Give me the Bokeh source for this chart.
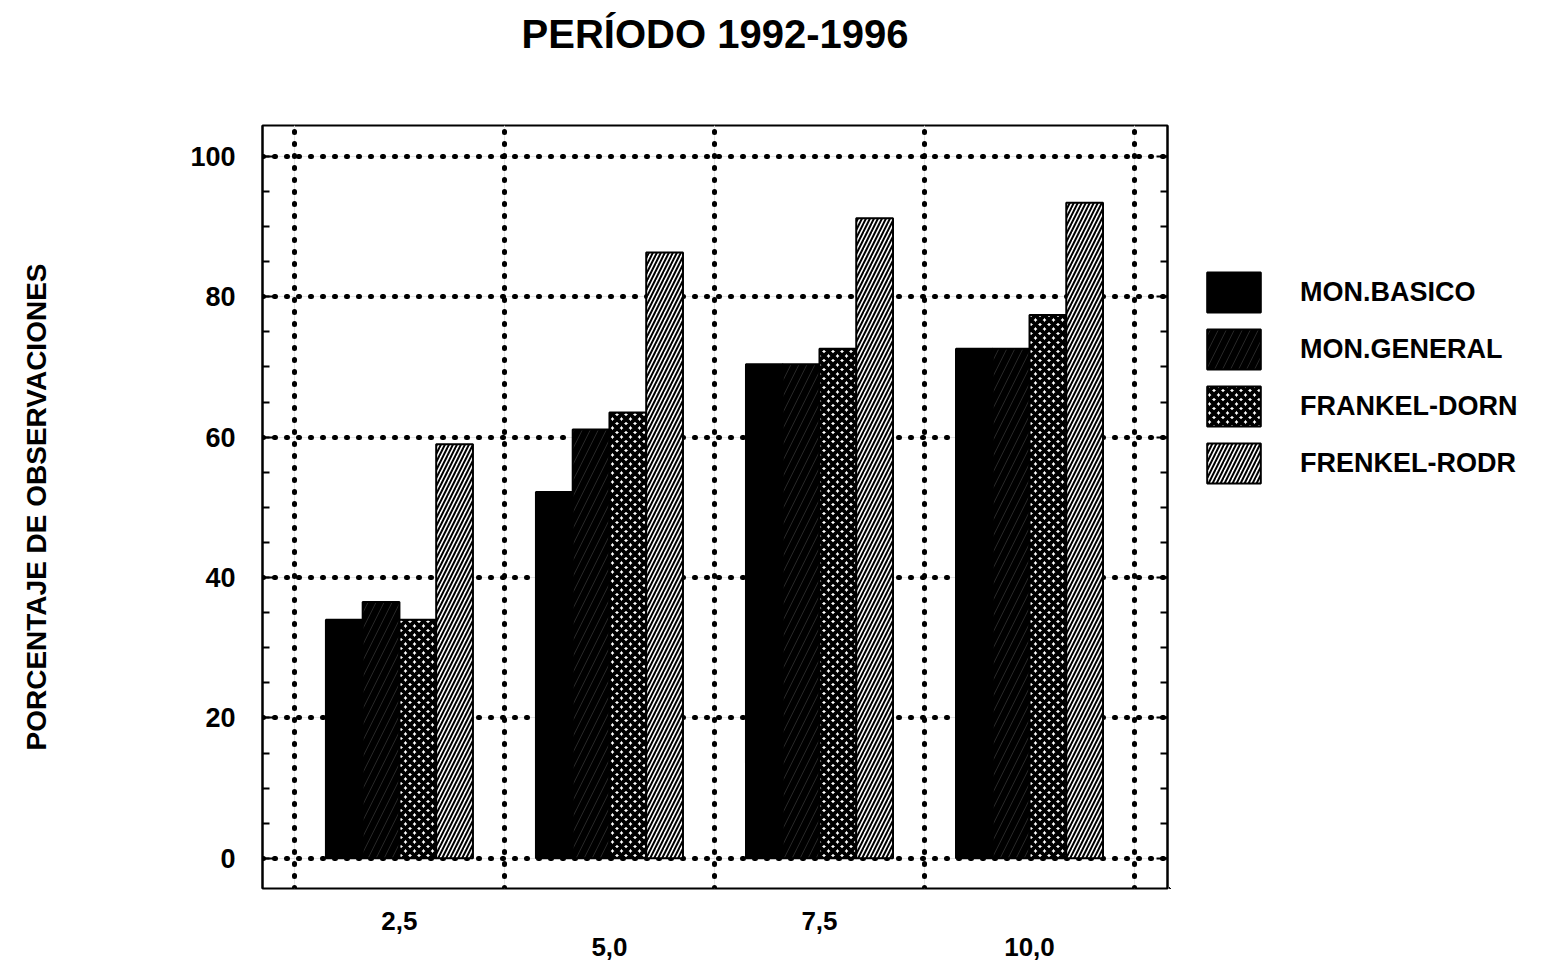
from bokeh.plotting import figure
from bokeh.layouts import row
from bokeh.models import (LinearAxis, FixedTicker, SingleIntervalTicker, Grid, Legend,
                          LegendItem, Range1d, ColumnDataSource, Title)
from bokeh.embed import file_html
from bokeh.resources import INLINE

# ---- data ----
categories = ["2,5", "5,0", "7,5", "10,0"]
series_names = ["MON.BASICO", "MON.GENERAL", "FRANKEL-DORN", "FRENKEL-RODR"]
mon_basico = [34.0, 52.2, 70.4, 72.6]
mon_general = [36.5, 61.1, 70.4, 72.6]
frankel_dorn = [34.0, 63.5, 72.6, 77.4]
frenkel_rodr = [59.0, 86.3, 91.2, 93.4]
y_ticks = [0, 20, 40, 60, 80, 100]

series_values = [mon_basico, mon_general, frankel_dorn, frenkel_rodr]

FONT = "Liberation Sans"
Y0, Y1 = -4.3, 104.4
H = 968

p = figure(width=1169, height=H,
           x_range=Range1d(-0.152, 4.157), y_range=Range1d(Y0, Y1),
           output_backend="svg", toolbar_location=None,
           x_axis_location=None, y_axis_location=None,
           min_border_left=262, min_border_right=2,
           min_border_top=125, min_border_bottom=80)

p.background_fill_color = "white"
p.border_fill_color = "white"
p.outline_line_color = "black"
p.outline_line_width = 2
p.outline_line_alpha = 1

# spacer title (next to frame) then the real title above it
p.add_layout(Title(text=" ", text_font_size="45px"), "above")
p.add_layout(Title(text="PERÍODO 1992-1996", align="center", vertical_align="top",
                   text_font=FONT, text_font_style="bold", text_font_size="40px",
                   text_color="black"), "above")

# grids
grid_kw = dict(grid_line_color="black", grid_line_width=5, grid_line_dash="1 11",
               grid_line_cap="round")
p.add_layout(Grid(dimension=0, ticker=FixedTicker(ticks=[0, 1, 2, 3, 4]), **grid_kw))
p.add_layout(Grid(dimension=1, ticker=FixedTicker(ticks=y_ticks), **grid_kw))

# y axes
def make_yaxis(show_labels):
    ax = LinearAxis(ticker=SingleIntervalTicker(interval=20, num_minor_ticks=4))
    ax.axis_line_color = "black"
    ax.axis_line_width = 2
    ax.major_tick_in = 11
    ax.major_tick_out = 0
    ax.minor_tick_in = 7
    ax.minor_tick_out = 0
    ax.major_tick_line_width = 2
    ax.minor_tick_line_width = 2
    ax.major_tick_line_color = "black"
    ax.minor_tick_line_color = "black"
    if show_labels:
        ax.major_label_text_font = FONT
        ax.major_label_text_font_style = "bold"
        ax.major_label_text_font_size = "27px"
        ax.major_label_text_color = "black"
        ax.major_label_standoff = 27
        ax.axis_label = "PORCENTAJE DE OBSERVACIONES"
        ax.axis_label_text_font = FONT
        ax.axis_label_text_font_style = "bold"
        ax.axis_label_text_font_size = "28px"
        ax.axis_label_text_color = "black"
        ax.axis_label_standoff = 135
    else:
        ax.major_label_text_font_size = "1px"
        ax.major_label_text_color = None
        ax.major_label_standoff = 0
    return ax

p.add_layout(make_yaxis(True), "left")
p.add_layout(make_yaxis(False), "right")

# x axes (staggered category labels)
def make_xaxis(idx, standoff):
    ticks = [i + 0.5 for i in idx]
    ax = LinearAxis(ticker=FixedTicker(ticks=ticks),
                    major_label_overrides={i + 0.5: categories[i] for i in idx})
    ax.axis_line_color = None
    ax.major_tick_line_color = None
    ax.minor_tick_line_color = None
    ax.major_tick_in = 0
    ax.major_tick_out = 0
    ax.minor_tick_in = 0
    ax.minor_tick_out = 0
    ax.major_label_text_font = FONT
    ax.major_label_text_font_style = "bold"
    ax.major_label_text_font_size = "26px"
    ax.major_label_text_color = "black"
    ax.major_label_standoff = standoff
    return ax

p.add_layout(make_xaxis([0, 2], 23), "below")
p.add_layout(make_xaxis([1, 3], 5), "below")

# bars
bar_w = 0.175
styles = [
    dict(fill_color="black"),
    dict(fill_color="black", hatch_pattern="/", hatch_color="#262626", hatch_weight=1, hatch_scale=16),
    dict(fill_color="white", hatch_pattern="x", hatch_color="black", hatch_weight=4, hatch_scale=9),
    dict(fill_color="white", hatch_pattern="/", hatch_color="black", hatch_weight=2, hatch_scale=8),
]
sources = []
for j, (name, vals) in enumerate(zip(series_names, series_values)):
    xs = [i + 0.5 + (j - 1.5) * bar_w for i in range(len(categories))]
    src = ColumnDataSource(dict(x=xs, top=vals))
    sources.append(src)
    p.vbar(x="x", top="top", bottom=0, width=bar_w, source=src,
           line_color="black", line_width=2, **styles[j])

# legend panel (separate figure to the right); its bars lie outside its visible ranges
p2 = figure(width=1545 - 1169, height=H, output_backend="svg", toolbar_location=None,
            x_axis_location=None, y_axis_location=None,
            x_range=Range1d(1000, 1001), y_range=Range1d(1000, 1001),
            min_border_left=0, min_border_right=0, min_border_top=0, min_border_bottom=0)
p2.outline_line_color = None
p2.background_fill_color = "white"
p2.border_fill_color = "white"
p2.xgrid.visible = False
p2.ygrid.visible = False
items = []
for j, name in enumerate(series_names):
    r = p2.vbar(x="x", top="top", bottom=0, width=bar_w, source=sources[j],
                line_color="black", line_width=2, **styles[j])
    items.append(LegendItem(label=name, renderers=[r], index=0))

legend = Legend(items=items, location=(31, H - 488 - 80))
legend.glyph_width = 67
legend.glyph_height = 50
legend.label_standoff = 33
legend.spacing = 7
legend.padding = 0
legend.margin = 0
legend.border_line_color = None
legend.background_fill_alpha = 0
legend.label_text_font = FONT
legend.label_text_font_style = "bold"
legend.label_text_font_size = "27px"
legend.label_text_color = "black"
legend.label_height = 50
p2.add_layout(legend, "center")

layout = row(p, p2, spacing=0)
open("out.html", "w").write(file_html(layout, INLINE))
